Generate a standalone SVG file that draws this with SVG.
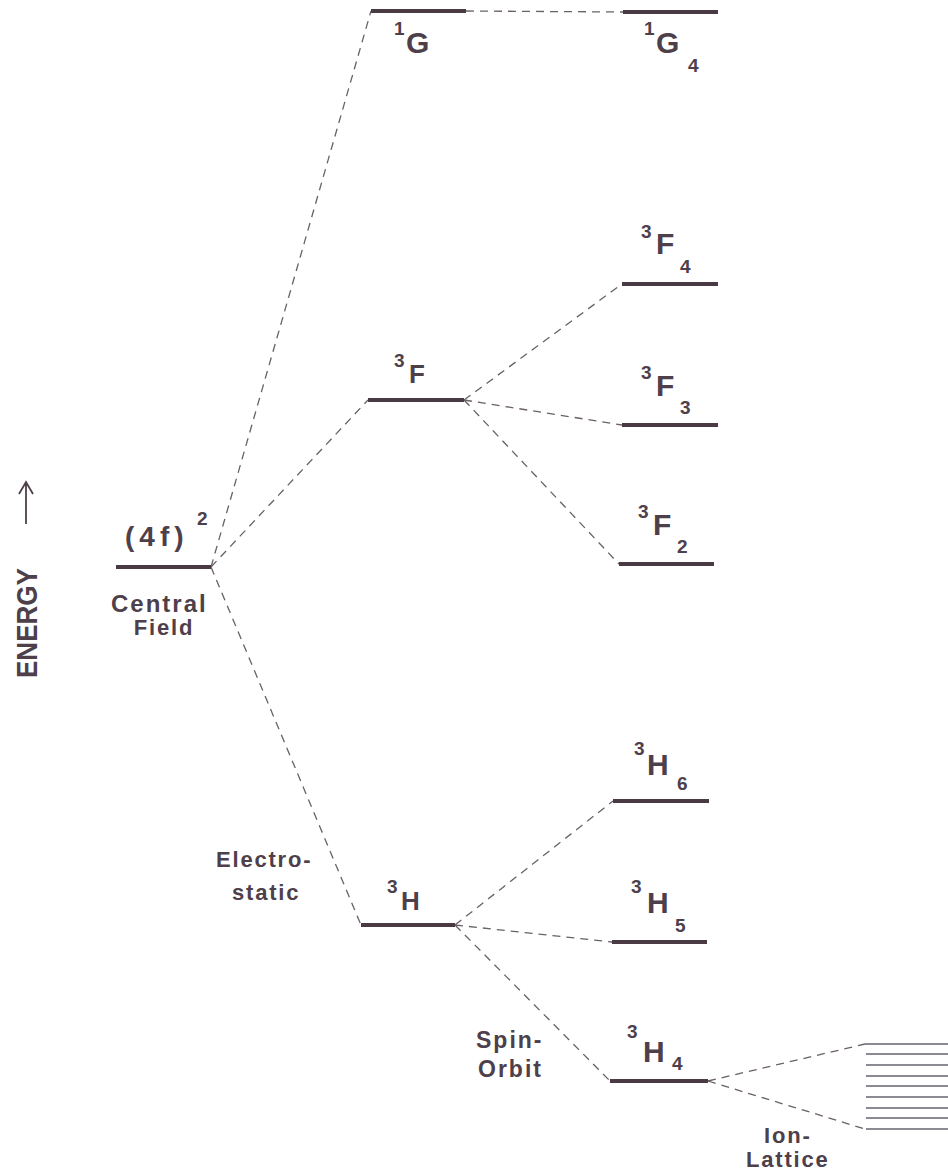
<svg xmlns="http://www.w3.org/2000/svg" width="948" height="1171" viewBox="0 0 948 1171">
<style>
.bg{fill:#ffffff}
.lvl{stroke:#4a3a44;stroke-width:4;fill:none;stroke-linecap:butt}
.dash{stroke:#6a6068;stroke-width:1.3;fill:none;stroke-dasharray:8 6}
.lat{stroke:#6a6470;stroke-width:1.6;fill:none}
text{font-family:"Liberation Sans",Arial,sans-serif;font-weight:bold;fill:#4e404a}
.big{font-size:30px}
.mid{font-size:26px}
.dg{font-size:19px}
.lab{font-size:22px;letter-spacing:1.8px}
.en{font-size:29px}
</style>
<rect class="bg" x="0" y="0" width="948" height="1171"/>
<g id="connectors">
<path class="dash" d="M211,567 L371,11"/>
<path class="dash" d="M211,567 L368,400"/>
<path class="dash" d="M211,567 L361,925"/>
<path class="dash" d="M466,11 L623,12"/>
<path class="dash" d="M464,400 L622,284"/>
<path class="dash" d="M464,400 L622,425"/>
<path class="dash" d="M464,400 L619,564"/>
<path class="dash" d="M455,925 L613,801"/>
<path class="dash" d="M455,925 L612,942"/>
<path class="dash" d="M455,925 L610,1081"/>
<path class="dash" d="M708,1081 L865,1044"/>
<path class="dash" d="M708,1081 L865,1129"/>
</g>
<g id="axis">
<text class="en" transform="translate(37,678) rotate(-90)" textLength="110" lengthAdjust="spacingAndGlyphs">ENERGY</text>
<path d="M26,524 L26,482 M19,494 L26,482 L33,494" stroke="#4e404a" stroke-width="1.8" fill="none"/>
</g>
<g id="n-4f2">
<path class="lvl" d="M116,567 L211,567"/>
<text x="125" y="546" font-size="28" letter-spacing="5">(4f)</text>
<text class="dg" x="197" y="525">2</text>
<text x="111" y="612" font-size="24" letter-spacing="2">Central</text>
<text class="lab" x="164" y="635" text-anchor="middle">Field</text>
</g>
<g id="n-1G">
<path class="lvl" d="M371,11 L466,11"/>
<text class="dg" x="394" y="35">1</text>
<text class="big" x="406" y="53">G</text>
</g>
<g id="n-1G4">
<path class="lvl" d="M623,12 L718,12"/>
<text class="dg" x="644" y="35">1</text>
<text class="big" x="656" y="53">G</text>
<text class="dg" x="688" y="72">4</text>
</g>
<g id="n-3F">
<path class="lvl" d="M368,400 L464,400"/>
<text class="dg" x="394" y="367">3</text>
<text class="mid" x="409" y="383">F</text>
</g>
<g id="n-3F4">
<path class="lvl" d="M622,284 L718,284"/>
<text class="dg" x="641" y="238">3</text>
<text class="big" x="656" y="254">F</text>
<text class="dg" x="680" y="273">4</text>
</g>
<g id="n-3F3">
<path class="lvl" d="M622,425 L718,425"/>
<text class="dg" x="641" y="379">3</text>
<text class="big" x="656" y="396">F</text>
<text class="dg" x="680" y="414">3</text>
</g>
<g id="n-3F2">
<path class="lvl" d="M619,564 L714,564"/>
<text class="dg" x="638" y="518">3</text>
<text class="big" x="653" y="535">F</text>
<text class="dg" x="677" y="553">2</text>
</g>
<g id="n-3H">
<path class="lvl" d="M361,925 L455,925"/>
<text class="dg" x="387" y="893">3</text>
<text class="mid" x="401" y="910">H</text>
<text class="lab" x="216" y="867">Electro-</text>
<text class="lab" x="232" y="900">static</text>
</g>
<g id="n-3H6">
<path class="lvl" d="M613,801 L709,801"/>
<text class="dg" x="634" y="755">3</text>
<text class="big" x="647" y="775">H</text>
<text class="dg" x="677" y="790">6</text>
</g>
<g id="n-3H5">
<path class="lvl" d="M612,942 L707,942"/>
<text class="dg" x="631" y="893">3</text>
<text class="big" x="647" y="913">H</text>
<text class="dg" x="675" y="932">5</text>
</g>
<g id="n-3H4">
<path class="lvl" d="M610,1081 L708,1081"/>
<text class="dg" x="627" y="1038">3</text>
<text class="big" x="643" y="1062">H</text>
<text class="dg" x="672" y="1070">4</text>
<text x="476" y="1048" font-size="23" letter-spacing="2">Spin-</text>
<text x="478" y="1077" font-size="23" letter-spacing="2">Orbit</text>
</g>
<g id="n-lattice">
<path class="lat" d="M865,1044 L948,1044 M866,1054 L948,1054 M866,1065 L948,1065 M866,1076 L948,1076 M866,1086 L948,1086 M866,1097 L948,1097 M866,1108 L948,1108 M866,1118 L948,1118 M866,1129 L948,1129"/>
<text class="lab" x="764" y="1143">Ion-</text>
<text class="lab" x="746" y="1167">Lattice</text>
</g>
</svg>
